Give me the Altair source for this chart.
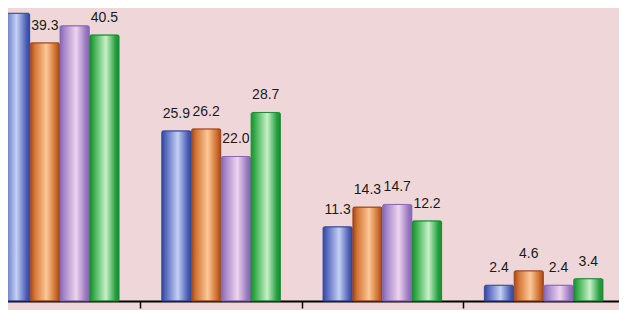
import altair as alt
import pandas as pd

# ---- data ----
groups = ["G1", "G2", "G3", "G4"]
series = ["S1", "S2", "S3", "S4"]
s1_values = [43.8, 25.9, 11.3, 2.4]
s2_values = [39.3, 26.2, 14.3, 4.6]
s3_values = [41.9, 22.0, 14.7, 2.4]
s4_values = [40.5, 28.7, 12.2, 3.4]

all_values = [s1_values, s2_values, s3_values, s4_values]
rows = []
for s, vals in zip(series, all_values):
    for g, v in zip(groups, vals):
        rows.append({"group": g, "series": s, "value": v})
df = pd.DataFrame(rows)

# cylinder-like gradients (dark edge, mid, highlight, mid, dark edge)
palettes = {
    "S1": ("#33479a", "#5a6cc0", "#c4d0f4", "#4d5fb4"),
    "S2": ("#a0461c", "#d47434", "#fcc898", "#cc6a28"),
    "S3": ("#8466b4", "#a888cc", "#eed4ee", "#9a78c0"),
    "S4": ("#1a8c30", "#3cb050", "#c8f0c8", "#24a040"),
}

def gradient(dark, mid, hl, mid2):
    return alt.Gradient(
        gradient="linear",
        x1=0, x2=1, y1=0, y2=0,
        stops=[
            alt.GradientStop(offset=0.0, color=dark),
            alt.GradientStop(offset=0.15, color=mid),
            alt.GradientStop(offset=0.55, color=hl),
            alt.GradientStop(offset=0.88, color=mid2),
            alt.GradientStop(offset=1.0, color=dark),
        ],
    )

x_enc = alt.X(
    "group:N",
    scale=alt.Scale(domain=groups, range=[-28.9, 616.3],
                    paddingInner=0.265, paddingOuter=0.1325),
    axis=alt.Axis(labels=False, title=None, grid=False,
                  domainColor="black", domainWidth=2,
                  tickColor="black", tickWidth=1.5, tickSize=7,
                  bandPosition=1, tickOffset=21.4),
)
xo_enc = alt.XOffset("series:N", scale=alt.Scale(domain=series, paddingInner=0.02, paddingOuter=0))
y_enc = alt.Y("value:Q", scale=alt.Scale(domain=[0, 44.6], nice=False, zero=True), axis=None)

base = alt.Chart(df)

layers = []
for s in series:
    dark, mid, hl, mid2 = palettes[s]
    layers.append(
        base.transform_filter(alt.datum.series == s)
        .mark_bar(color=gradient(dark, mid, hl, mid2), stroke=dark, strokeWidth=1,
                  cornerRadiusTopLeft=1.5, cornerRadiusTopRight=1.5)
        .encode(x=x_enc, xOffset=xo_enc, y=y_enc)
    )

# labels of the two tallest bars fall outside the picture in the reference
labels = base.transform_filter("datum.value <= 41").mark_text(
    dy=-13, baseline="alphabetic", align="center",
    fontSize=14, font="Liberation Sans", color="#1a1a1a",
).encode(x=x_enc, xOffset=xo_enc, y=y_enc, text=alt.Text("value:Q", format=".1f"))

chart = alt.layer(*layers, labels).properties(
    width=611,
    height=293,
    autosize=alt.AutoSizeParams(type="none"),
    padding={"left": 0, "top": 0, "right": 0, "bottom": 9},
    background="#efd7d9",
).configure_view(stroke=None)

chart.save("out.html", embed_options={"renderer": "svg", "actions": False})
